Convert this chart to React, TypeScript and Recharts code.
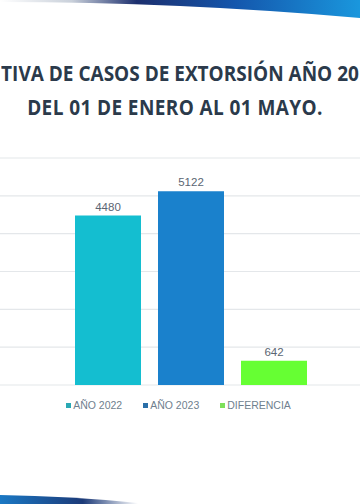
import React from "react";
import { BarChart, Bar, XAxis, YAxis, CartesianGrid, Legend, LabelList } from "recharts";

// Valores
const categories = ["Extorsión"];
const casos2022 = [4480];
const casos2023 = [5122];
const diferencia = [642];
const yTicks = [0, 1000, 2000, 3000, 4000, 5000, 6000];

const series = [
  { key: "a2022", name: "AÑO 2022", color: "#14bed0", legendColor: "#2aa9b4" },
  { key: "a2023", name: "AÑO 2023", color: "#1a81cc", legendColor: "#2a6fa8" },
  { key: "dif", name: "DIFERENCIA", color: "#66ff33", legendColor: "#7ee05a" },
];

const data = categories.map((name, i) => ({
  name,
  a2022: casos2022[i],
  a2023: casos2023[i],
  dif: diferencia[i],
}));

function LegendContent() {
  return (
    <div
      style={{
        display: "flex",
        justifyContent: "center",
        gap: 21,
        fontFamily: "'Liberation Sans', Arial, sans-serif",
        fontSize: 10.5,
        lineHeight: "12px",
        color: "#6f7f8e",
      }}
    >
      {series.map((s) => (
        <span key={s.key} style={{ display: "flex", alignItems: "center" }}>
          <span
            style={{
              display: "inline-block",
              width: 5,
              height: 5,
              background: s.legendColor,
              marginRight: 2,
            }}
          />
          {s.name}
        </span>
      ))}
    </div>
  );
}

const titleStyle: React.CSSProperties = {
  position: "absolute",
  left: 0,
  width: 360,
  margin: 0,
  fontFamily: "'Open Sans', sans-serif",
  fontWeight: 700,
  fontSize: 19,
  lineHeight: "22px",
  color: "#2b3a4b",
  whiteSpace: "nowrap",
  textAlign: "center",
  transform: "scaleY(1.1)",
};

export default function App() {
  return (
    <div
      style={{
        position: "fixed",
        top: 0,
        left: 0,
        width: 360,
        height: 504,
        overflow: "hidden",
        background: "#ffffff",
      }}
    >
      {/* decoración de la diapositiva */}
      <svg width={360} height={504} style={{ position: "absolute", top: 0, left: 0 }}>
        <defs>
          <linearGradient id="topBand" x1="0" x2="1" y1="0" y2="0">
            <stop offset="0" stopColor="#ffffff" />
            <stop offset="0.2" stopColor="#c9d0da" />
            <stop offset="0.38" stopColor="#1c2f6e" />
            <stop offset="0.65" stopColor="#1456ac" />
            <stop offset="1" stopColor="#1a97dd" />
          </linearGradient>
          <linearGradient id="botBand" x1="0" x2="1" y1="0" y2="0">
            <stop offset="0" stopColor="#1a78c4" />
            <stop offset="0.6" stopColor="#1c3a78" />
            <stop offset="1" stopColor="#ffffff" />
          </linearGradient>
        </defs>
        <path d="M0,0 L0,2 Q180,2 360,18 L360,0 Z" fill="url(#topBand)" />
        <path d="M0,495 Q70,496 138,503 L138,504 L0,504 Z" fill="url(#botBand)" />
      </svg>

      <div style={{ ...titleStyle, top: 62 }}>TIVA DE CASOS DE EXTORSIÓN AÑO 20</div>
      <div style={{ ...titleStyle, top: 96, left: -5, letterSpacing: 0.4 }}>
        DEL 01 DE ENERO AL 01 MAYO.
      </div>

      <div style={{ position: "absolute", top: 0, left: 0 }}>
        <BarChart
          width={382}
          height={504}
          data={data}
          margin={{ top: 158, right: 0, bottom: 107, left: 0 }}
          barGap={17}
        >
          <CartesianGrid vertical={false} stroke="#e4e7ea" strokeWidth={1.2} />
          <XAxis dataKey="name" hide />
          <YAxis hide domain={[0, 6000]} ticks={yTicks} width={0} />
          <Legend
            content={<LegendContent />}
            wrapperStyle={{ position: "absolute", top: 399, left: 0, width: 357, height: 12 }}
          />
          {series.map((s) => (
            <Bar
              key={s.key}
              dataKey={s.key}
              name={s.name}
              fill={s.color}
              barSize={66}
              isAnimationActive={false}
            >
              <LabelList
                dataKey={s.key}
                position="top"
                offset={5}
                fill="#5b6673"
                fontSize={11.5}
                fontFamily="'Liberation Sans', Arial, sans-serif"
              />
            </Bar>
          ))}
        </BarChart>
      </div>
    </div>
  );
}
